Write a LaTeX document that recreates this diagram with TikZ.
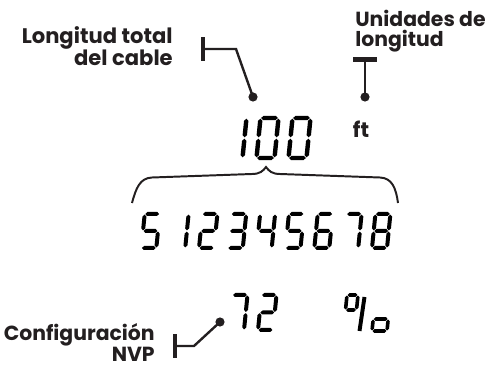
\documentclass[tikz,border=0pt]{standalone}
\usepackage{fontspec}
\setmainfont{Poppins}
\definecolor{ink}{RGB}{35,31,32}

% seven-segment pieces: half thickness \lcdt, gap \lcdg
\newcommand{\lcdhseg}[3]{\fill (#1+\lcdg,#3) -- (#1+\lcdg+\lcdt,#3+\lcdt) -- (#2-\lcdg-\lcdt,#3+\lcdt)
  -- (#2-\lcdg,#3) -- (#2-\lcdg-\lcdt,#3-\lcdt) -- (#1+\lcdg+\lcdt,#3-\lcdt) -- cycle;}
\newcommand{\lcdvseg}[3]{\fill (#1,#2+\lcdg) -- (#1+\lcdt,#2+\lcdg+\lcdt) -- (#1+\lcdt,#3-\lcdg-\lcdt)
  -- (#1,#3-\lcdg) -- (#1-\lcdt,#3-\lcdg-\lcdt) -- (#1-\lcdt,#2+\lcdg+\lcdt) -- cycle;}
\def\lcdsega{\lcdhseg{0}{\dw}{\dh}}
\def\lcdsegb{\lcdvseg{\dw}{\dm}{\dh}}
\def\lcdsegc{\lcdvseg{\dw}{0}{\dm}}
\def\lcdsegd{\lcdhseg{0}{\dw}{0}}
\def\lcdsege{\lcdvseg{0}{0}{\dm}}
\def\lcdsegf{\lcdvseg{0}{\dm}{\dh}}
\def\lcdsegg{\lcdhseg{0}{\dw}{\dm}}
% x, y (lower left), width, height, half thickness, segments
\newcommand{\lcddigit}[6]{%
  \begin{scope}[shift={(#1,#2)},x=0.025cm,y=0.025cm,xslant=0.1,fill=black]
    \def\dw{#3}\def\dh{#4}\pgfmathsetmacro\dm{#4/2}%
    \def\lcdt{#5}\pgfmathsetmacro\lcdg{#5*0.3}%
    \foreach \s in {#6}{\csname lcdseg\s\endcsname}
  \end{scope}}

\begin{document}
\begin{tikzpicture}[x=0.025cm,y=-0.025cm,
    callout/.style={font=\fontsize{15}{14.6}\selectfont\bfseries,text=ink,inner sep=0pt},
    leader/.style={draw=ink,line width=1.7pt,line join=miter},
    tbar/.style={fill=ink,inner sep=0pt,minimum width=#1},
    dot/.style={circle,fill=ink,inner sep=0pt,minimum size=0.23cm}]
    \useasboundingbox (0,0) rectangle (488,367);

    % readout
    \lcddigit{224.5}{158}{18}{40}{2.2}{b,c}
    \lcddigit{256.5}{158}{18}{40}{2.2}{a,b,c,d,e,f}
    \lcddigit{288.5}{158}{18}{40}{2.2}{a,b,c,d,e,f}
    \node[callout] (unit) at (361,129.5) {ft};

    \draw[ink,line width=1.4pt]
        (132,203) .. controls (136,188) and (140,178) .. (152,177.5)
        -- (252,174) .. controls (260,174) and (263,171) .. (266,167)
        .. controls (269,171) and (272,174) .. (280,174)
        -- (380,177.5) .. controls (392,178) and (396,188) .. (398,203);

    \lcddigit{141.3}{248}{15}{34}{2}{a,f,g,c,d}
    \lcddigit{170.2}{248}{15}{34}{2}{b,c}
    \lcddigit{199.0}{248}{15}{34}{2}{a,b,g,e,d}
    \lcddigit{227.8}{248}{15}{34}{2}{a,b,g,c,d}
    \lcddigit{256.7}{248}{15}{34}{2}{f,g,b,c}
    \lcddigit{285.5}{248}{15}{34}{2}{a,f,g,c,d}
    \lcddigit{314.3}{248}{15}{34}{2}{a,f,g,e,c,d}
    \lcddigit{343.2}{248}{15}{34}{2}{a,b,c}
    \lcddigit{372.0}{248}{15}{34}{2}{a,b,c,d,e,f,g}

    \lcddigit{229}{330}{15}{35}{2}{a,b,c}
    \lcddigit{258}{330}{15}{35}{2}{a,b,g,e,d}
    \lcddigit{344}{325}{11}{30}{1.8}{a,b,f,g}
    \lcddigit{372}{331}{15}{24}{1.8}{g,c,d,e}
    \draw[line width=2.8pt] (359.5,331) -- (364.5,297);

    % callouts
    \node[callout,align=right,anchor=north east] (lentxt) at (173,26)
        {Longitud total\\del cable};
    \node[tbar=0.12cm,minimum height=0.6cm] (lenbar) at (203,49) {};
    \coordinate (lenbend) at (236,49);
    \node[dot] (lendot) at (253,97) {};
    \draw[leader] (lenbar.center) -- (lenbend) -- (lendot.center);

    \node[callout,align=left,anchor=north west,
        font=\fontsize{14.5}{14.2}\selectfont\bfseries] (unitxt) at (355,10)
        {Unidades de\\longitud};
    \node[tbar=0.6cm,minimum height=0.12cm] (unibar) at (365,59.5) {};
    \node[dot] (unidot) at (365,97) {};
    \draw[leader] (unibar.center) -- (unidot.center);

    \node[callout,align=right,anchor=north east,
        font=\fontsize{14.5}{11.6}\selectfont\bfseries] (nvptxt) at (155,323)
        {Configuración\\NVP};
    \node[tbar=0.1cm,minimum height=0.6cm] (nvpbar) at (175,346) {};
    \coordinate (nvpbend) at (194,346);
    \node[dot] (nvpdot) at (220,322) {};
    \draw[leader] (nvpbar.center) -- (nvpbend) -- (nvpdot.center);
\end{tikzpicture}
\end{document}
